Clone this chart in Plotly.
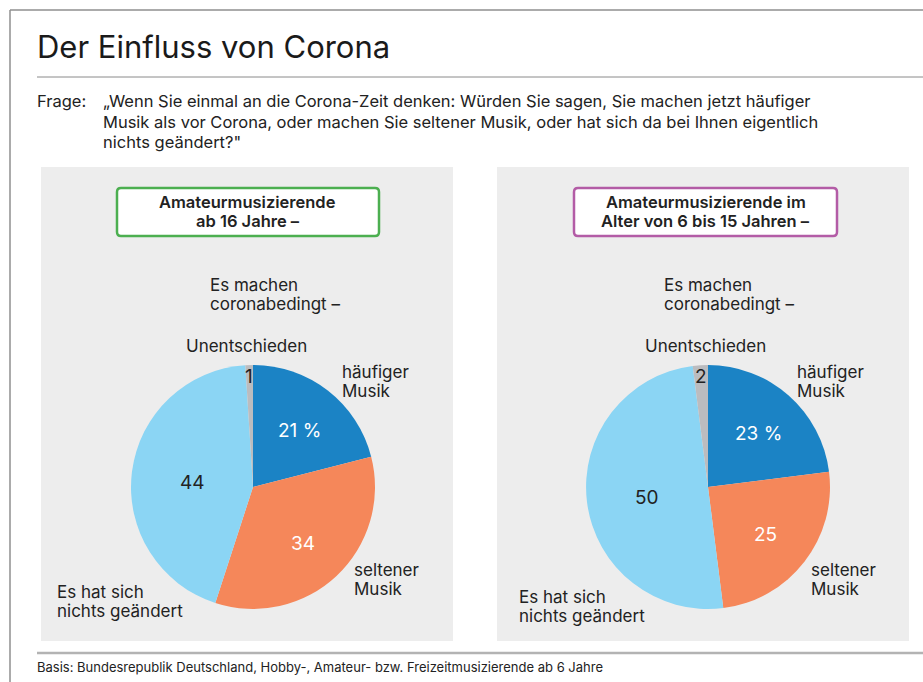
import math
import plotly.graph_objects as go

# ---------------- data ----------------
categories = ["häufiger Musik", "seltener Musik", "Es hat sich nichts geändert", "Unentschieden"]
values_16plus = [21, 34, 44, 1]
values_6to15 = [23, 25, 50, 2]
panel_titles = ["Amateurmusizierende<br>ab 16 Jahre –",
                "Amateurmusizierende im<br>Alter von 6 bis 15 Jahren –"]
title_text = "Der Einfluss von Corona"
question_label = "Frage:"
question_lines = ["„Wenn Sie einmal an die Corona-Zeit denken: Würden Sie sagen, Sie machen jetzt häufiger",
                  "Musik als vor Corona, oder machen Sie seltener Musik, oder hat sich da bei Ihnen eigentlich",
                  "nichts geändert?\""]
intro_label = "Es machen<br>coronabedingt –"
footer_text = "Basis: Bundesrepublik Deutschland, Hobby-, Amateur- bzw. Freizeitmusizierende ab 6 Jahre"

# ---------------- style ----------------
W, H = 923, 682
FONT = "Inter, Liberation Sans, Arial, sans-serif"
DARK = "#222222"
slice_colors = ["#1b83c5", "#f5875a", "#8bd5f4", "#bbbcbf"]
value_colors = ["white", "white", DARK, DARK]
value_radius = [0.62, 0.60, 0.50, 0.93]
box_colors = ["#4caf50", "#b35ca6"]

def px(x):
    return x / W

def py(y):
    return 1 - y / H

fig = go.Figure()
shapes = []
annotations = []

def text(x, y, s, size, color=DARK, xanchor="left", yanchor="middle", weight="normal", lh=None):
    lines = s.split("<br>")
    if lh is None:
        lh = size * 1.1
    if xanchor == "left":
        x -= 2
    for i, line in enumerate(lines):
        annotations.append(dict(x=px(x), y=py(y + i * lh), xref="paper", yref="paper",
                                text=line, showarrow=False, xanchor=xanchor, yanchor=yanchor,
                                font=dict(family=FONT, size=size, color=color, weight=weight)))

# frame
shapes.append(dict(type="line", xref="paper", yref="paper", x0=px(10), x1=px(923), y0=py(10), y1=py(10),
                   line=dict(color="#8f8f8f", width=1.5)))
shapes.append(dict(type="line", xref="paper", yref="paper", x0=px(10), x1=px(10), y0=py(10), y1=py(682),
                   line=dict(color="#8f8f8f", width=1.5)))
# title rule
shapes.append(dict(type="line", xref="paper", yref="paper", x0=px(37), x1=px(923), y0=py(77), y1=py(77),
                   line=dict(color="#8a8a8a", width=1)))
# footer rule
shapes.append(dict(type="line", xref="paper", yref="paper", x0=px(37), x1=px(923), y0=py(653), y1=py(653),
                   line=dict(color="#b3b3b3", width=2.5)))

text(37, 47, title_text, 31, color="#1a1a1a")
text(37, 101, question_label, 16.5)
for i, line in enumerate(question_lines):
    text(103, 101 + i * 20.5, line, 16.5)
text(37, 667, footer_text, 13)

def rounded_rect(x0, y0, x1, y1, r):
    X0, X1 = px(x0), px(x1)
    Y0, Y1 = py(y0), py(y1)
    rx, ry = r / W, r / H
    return (f"M {X0+rx},{Y0} L {X1-rx},{Y0} Q {X1},{Y0} {X1},{Y0-ry} "
            f"L {X1},{Y1+ry} Q {X1},{Y1} {X1-rx},{Y1} L {X0+rx},{Y1} "
            f"Q {X0},{Y1} {X0},{Y1+ry} L {X0},{Y0-ry} Q {X0},{Y0} {X0+rx},{Y0} Z")

panels = [
    dict(values=values_16plus, x0=41, x1=453, cx=253, box=(117, 379),
         intro=210, unent=247, haeuf=342, selt=354, nichts=(57, 591)),
    dict(values=values_6to15, x0=497, x1=909, cx=708, box=(574, 837),
         intro=664, unent=705, haeuf=797, selt=811, nichts=(519, 596)),
]
CY, R = 487, 122

for k, p in enumerate(panels):
    shapes.append(dict(type="rect", xref="paper", yref="paper", x0=px(p["x0"]), x1=px(p["x1"]),
                       y0=py(167), y1=py(641), fillcolor="#ededed", line=dict(width=0), layer="below"))
    shapes.append(dict(type="path", xref="paper", yref="paper",
                       path=rounded_rect(p["box"][0], 188, p["box"][1], 236, 4),
                       fillcolor="white", line=dict(color=box_colors[k], width=2.5), layer="below"))
    bx = (p["box"][0] + p["box"][1]) / 2
    text(bx, 202, panel_titles[k], 16.5, weight=600, xanchor="center", lh=19)

    cx = p["cx"]
    fig.add_trace(go.Pie(
        labels=categories, values=p["values"], sort=False, direction="clockwise", rotation=0,
        marker=dict(colors=slice_colors, line=dict(width=0)),
        textinfo="none", hoverinfo="label+value", showlegend=False,
        domain=dict(x=[px(cx - R), px(cx + R)], y=[py(CY + R), py(CY - R)]),
    ))
    # value labels placed at the middle angle of each slice
    total = sum(p["values"])
    cum = 0
    for i, v in enumerate(p["values"]):
        mid = (cum + v / 2) / total * 2 * math.pi
        cum += v
        r = value_radius[i] * R
        tx = cx + r * math.sin(mid)
        ty = CY - r * math.cos(mid) + 3
        label = f"{v} %" if i == 0 else f"{v}"
        text(tx, ty, label, 19, color=value_colors[i], xanchor="center")

    text(p["intro"], 285, intro_label, 17, lh=19)
    text(p["unent"], 346, categories[3], 17, xanchor="center")
    text(p["haeuf"], 372, "häufiger<br>Musik", 17, lh=18.5)
    text(p["selt"], 570, "seltener<br>Musik", 17, lh=18.5)
    text(p["nichts"][0], p["nichts"][1] + 1, "Es hat sich<br>nichts geändert", 17, lh=19)

fig.update_layout(
    width=W, height=H, margin=dict(l=0, r=0, t=0, b=0),
    paper_bgcolor="white", plot_bgcolor="white",
    shapes=shapes, annotations=annotations,
    font=dict(family=FONT, color=DARK),
)
fig.write_html("out.html",
               config={"displayModeBar": False},
               post_script="document.body.style.margin='0';document.body.style.overflow='hidden';")
